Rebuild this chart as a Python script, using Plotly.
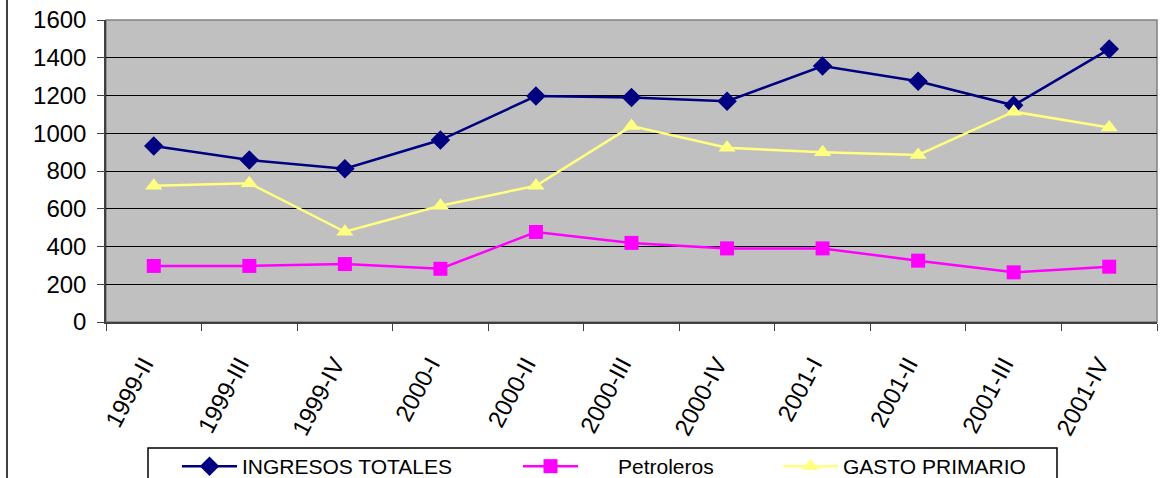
import plotly.graph_objects as go

# Quarterly periods
periods = ["1999-II", "1999-III", "1999-IV", "2000-I", "2000-II", "2000-III",
           "2000-IV", "2001-I", "2001-II", "2001-III", "2001-IV"]

# Series values
ingresos_totales = [932, 858, 812, 964, 1197, 1189, 1170, 1356, 1275, 1148, 1446]
petroleros = [297, 297, 307, 282, 477, 419, 390, 390, 325, 263, 293]
gasto_primario = [722, 735, 478, 616, 722, 1038, 923, 899, 885, 1114, 1030]

y_ticks = [0, 200, 400, 600, 800, 1000, 1200, 1400, 1600]

W, H = 1164, 478
L, R, T, B = 106, 7, 20, 156
plot_w = W - L - R
plot_h = H - T - B


def px_x(p):
    return (p - L) / plot_w


def px_y(p):
    return (H - B - p) / plot_h


fig = go.Figure()
fig.add_trace(go.Scatter(
    x=periods, y=ingresos_totales, name="INGRESOS TOTALES", mode="lines+markers",
    line=dict(color="#000080", width=2.5),
    marker=dict(symbol="diamond", size=15, color="#000080"),
    legend="legend",
))
fig.add_trace(go.Scatter(
    x=periods, y=petroleros, name="\u00a0\u00a0\u00a0\u00a0\u00a0\u00a0Petroleros",
    mode="lines+markers",
    line=dict(color="#FF00FF", width=2.5),
    marker=dict(symbol="square", size=14, color="#FF00FF"),
    legend="legend2",
))
fig.add_trace(go.Scatter(
    x=periods, y=gasto_primario, name="GASTO PRIMARIO", mode="lines+markers",
    line=dict(color="#FFFF80", width=2.5),
    marker=dict(symbol="triangle-up", size=15, color="#FFFF80"),
    legend="legend3",
))

# outer chart-area edge on the left
fig.add_shape(type="line", xref="paper", yref="paper",
              x0=px_x(7), x1=px_x(7), y0=px_y(0), y1=px_y(H),
              line=dict(color="black", width=1.5))

# legend frame
fig.add_shape(type="rect", xref="paper", yref="paper",
              x0=px_x(148), x1=px_x(1057), y0=px_y(448), y1=px_y(H + 30),
              line=dict(color="black", width=1.5))

# grey frame on the top and right of the plot area
fig.add_shape(type="rect", xref="paper", yref="paper", x0=0, x1=1, y0=0, y1=1,
              line=dict(color="#808080", width=1.5), layer="below")


def legend_at(x_px):
    return dict(
        orientation="h",
        x=px_x(x_px), y=px_y(446), xanchor="left", yanchor="top",
        bgcolor="rgba(0,0,0,0)", borderwidth=0,
        font=dict(size=21, color="black"),
        itemwidth=55,
    )


fig.update_layout(
    width=W, height=H,
    margin=dict(l=L, r=R, t=T, b=B, autoexpand=False),
    paper_bgcolor="white",
    plot_bgcolor="#C0C0C0",
    font=dict(family="Arial, Liberation Sans, sans-serif", color="black"),
    showlegend=True,
    legend=legend_at(177),
    legend2=legend_at(518),
    legend3=legend_at(778),
    xaxis=dict(
        type="category",
        tickangle=-62,
        tickfont=dict(size=24),
        ticks="outside", ticklen=7, tickcolor="#404040",
        tickson="boundaries",
        ticklabelstandoff=17,
        ticklabelshift=-10,
        showline=True, linecolor="#404040", linewidth=1.5,
        showgrid=False,
        range=[-0.5, len(periods) - 0.5],
    ),
    yaxis=dict(
        range=[0, 1600],
        tickvals=y_ticks,
        tickfont=dict(size=24),
        ticks="outside", ticklen=7, tickcolor="#404040",
        ticklabelstandoff=6,
        showline=True, linecolor="#404040", linewidth=1.5,
        showgrid=True, gridcolor="black", gridwidth=1,
        zeroline=False,
    ),
)

fig.write_html("out.html")
